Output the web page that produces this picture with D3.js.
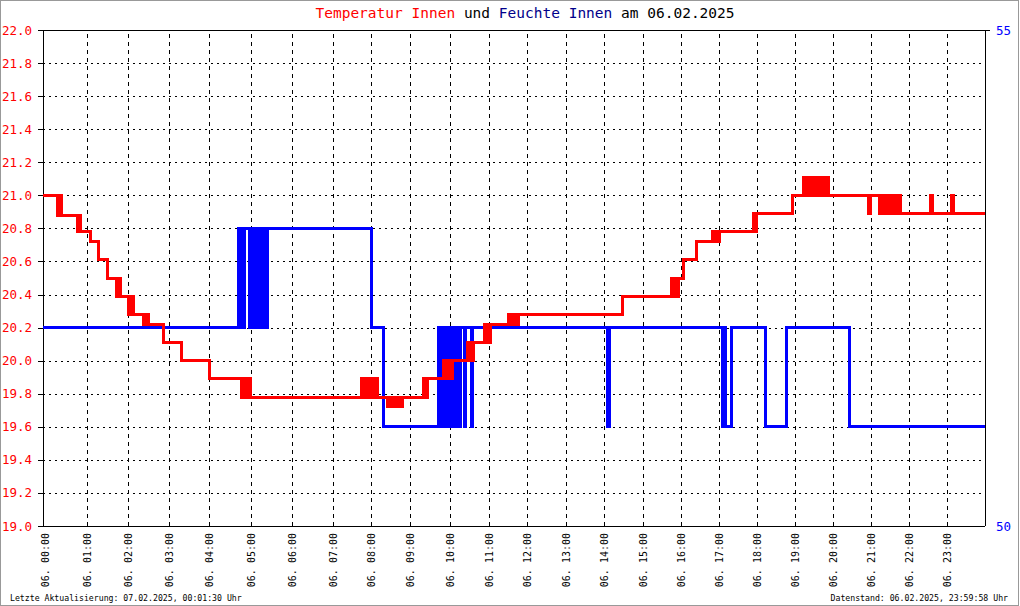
<!DOCTYPE html>
<html><head><meta charset="utf-8">
<script src="https://cdn.jsdelivr.net/npm/d3@7"></script>
<style>body{margin:0;background:#fff}svg{display:block}text{font-family:"DejaVu Sans Mono",monospace}</style>
</head><body>
<script>
// ---- data ----
const readingsPerHour = [89,82,82,80,83,82,82,78,78,80,77,77,77,77,77,77,77,75,77,75,76,77,75,77];
const hourLabels = ["00","01","02","03","04","05","06","07","08","09","10","11","12","13","14","15","16","17","18","19","20","21","22","23"];
const tempTicks = [19.0,19.2,19.4,19.6,19.8,20.0,20.2,20.4,20.6,20.8,21.0,21.2,21.4,21.6,21.8,22.0];
const humTicks = [50,55];
const tempPoints = [
["00:00",21.0],
["00:19",20.88],["00:20",21.0],["00:22",20.88],["00:23",21.0],["00:25",20.88],
["00:46",20.78],["00:47",20.88],["00:49",20.78],["00:50",20.88],["00:51",20.78],
["01:05",20.72],["01:16",20.61],["01:29",20.5],
["01:43",20.39],["01:44",20.5],["01:46",20.39],["01:47",20.5],["01:48",20.39],
["02:00",20.28],["02:02",20.39],["02:04",20.28],["02:05",20.39],["02:07",20.28],
["02:22",20.22],["02:24",20.28],["02:25",20.22],["02:27",20.28],["02:29",20.22],
["02:51",20.11],["03:19",20.0],["04:01",19.89],
["04:46",19.78],["04:48",19.89],["04:50",19.78],["04:53",19.89],["04:55",19.78],["04:57",19.89],["04:58",19.78],["04:59",19.89],["05:00",19.78],
["07:45",19.89],["07:47",19.78],["07:48",19.89],["07:50",19.78],["07:52",19.89],["07:54",19.78],["07:55",19.89],["07:57",19.78],["07:58",19.89],["08:00",19.78],["08:01",19.89],["08:03",19.78],["08:04",19.89],["08:06",19.78],["08:07",19.89],["08:08",19.78],["08:09",19.89],["08:10",19.78],
["08:25",19.72],["08:27",19.78],["08:28",19.72],["08:30",19.78],["08:31",19.72],["08:33",19.78],["08:34",19.72],["08:36",19.78],["08:37",19.72],["08:39",19.78],["08:40",19.72],["08:42",19.78],["08:43",19.72],["08:45",19.78],["08:46",19.72],["08:48",19.78],
["09:20",19.89],["09:21",19.78],["09:23",19.89],["09:24",19.78],["09:26",19.89],
["09:50",20.0],["09:52",19.89],["09:54",20.0],["09:56",19.89],["09:58",20.0],["10:00",19.89],["10:02",20.0],["10:03",19.89],["10:04",20.0],
["10:27",20.11],["10:29",20.0],["10:30",20.11],["10:32",20.0],["10:33",20.11],["10:35",20.0],["10:36",20.11],
["10:54",20.22],["10:56",20.11],["10:57",20.22],["10:59",20.11],["11:00",20.22],["11:02",20.11],["11:03",20.22],
["11:30",20.28],["11:32",20.22],["11:33",20.28],["11:35",20.22],["11:37",20.28],["11:39",20.22],["11:41",20.28],["11:43",20.22],["11:45",20.28],["11:46",20.22],["11:47",20.28],
["14:28",20.39],
["15:45",20.5],["15:47",20.39],["15:48",20.5],["15:50",20.39],["15:52",20.5],["15:54",20.39],["15:56",20.5],
["16:04",20.61],["16:24",20.72],
["16:49",20.78],["16:51",20.72],["16:53",20.78],["16:55",20.72],["16:57",20.78],["16:58",20.72],["17:00",20.78],
["17:54",20.89],["17:55",20.78],["17:57",20.89],["17:58",20.78],["18:00",20.89],
["18:56",21.0],
["19:13",21.11],["19:15",21.0],["19:16",21.11],["19:19",21.0],["19:20",21.11],["19:22",21.0],["19:23",21.11],["19:25",21.0],["19:26",21.11],["19:29",21.0],["19:30",21.11],["19:32",21.0],["19:33",21.11],["19:35",21.0],["19:36",21.11],["19:39",21.0],["19:40",21.11],["19:42",21.0],["19:43",21.11],["19:45",21.0],
["19:49",21.11],["19:51",21.0],["19:52",21.11],["19:54",21.0],
["20:56",20.89],["21:00",21.0],
["21:13",20.89],["21:15",21.0],["21:16",20.89],["21:19",21.0],["21:20",20.89],["21:22",21.0],["21:23",20.89],["21:26",21.0],["21:27",20.89],["21:29",21.0],["21:30",20.89],["21:33",21.0],["21:34",20.89],["21:36",21.0],["21:37",20.89],["21:40",21.0],["21:41",20.89],["21:43",21.0],["21:44",20.89],["21:46",21.0],["21:47",20.89],
["22:35",21.0],["22:38",20.89],["23:08",21.0],["23:11",20.89],
["24:00",20.89]
];
const humPoints = [
["00:00",52],
["04:43",53],["04:46",52],["04:51",53],["04:59",52],["05:03",53],["05:06",52],["05:07",53],["05:09",52],["05:10",53],["05:12",52],["05:13",53],["05:15",52],["05:16",53],["05:18",52],["05:19",53],["05:21",52],["05:22",53],["05:24",52],["05:25",53],
["08:00",52],["08:19",51],
["09:42",52],["09:44",51],["09:45",52],["09:47",51],["09:48",52],["09:50",51],["09:51",52],["09:53",51],["09:54",52],["09:56",51],["09:57",52],["09:59",51],["10:00",52],["10:02",51],["10:03",52],["10:05",51],["10:06",52],["10:08",51],["10:09",52],["10:15",51],["10:16",52],["10:22",51],["10:23",52],["10:33",51],["10:34",52],
["14:06",51],["14:09",52],
["17:05",51],["17:07",52],["17:09",51],["17:19",52],
["18:13",51],["18:46",52],["20:26",51],["24:00",51]
];
const titleParts = [["Temperatur Innen","#ff0000"],[" und ","#000000"],["Feuchte Innen","#00008b"],[" am 06.02.2025","#000000"]];
const footerLeft = "Letzte Aktualisierung: 07.02.2025, 00:01:30 Uhr";
const footerRight = "Datenstand: 06.02.2025, 23:59:58 Uhr";

// ---- layout ----
const W = 1020, H = 606;
const L = 43, R = 985, T = 30, B = 526;
const svg = d3.select("body").append("svg").attr("width", W).attr("height", H);
svg.append("rect").attr("x",0.5).attr("y",0.5).attr("width",1018).attr("height",605)
  .attr("fill","#fff").attr("stroke","#999");

const cum = [0];
readingsPerHour.forEach(c => cum.push(cum[cum.length-1] + c));
const idx = s => { const [h,m] = s.split(":").map(Number); return h >= 24 ? cum[24] : cum[h] + m/60*readingsPerHour[h]; };
const x = d3.scaleLinear().domain([0, cum[24]]).range([L, R]);
const yT = d3.scaleLinear().domain([19, 22]).range([B, T]);
const yH = d3.scaleLinear().domain([50, 55]).range([B, T]);

// grid horizontal
const gh = svg.append("g").attr("transform",`translate(${L},0)`)
  .call(d3.axisLeft(yT).tickValues(tempTicks.slice(1,-1)).tickSize(-(R-L)).tickFormat(""));
gh.select(".domain").remove();
gh.selectAll("line").attr("stroke","#000").attr("stroke-dasharray","2,4").attr("shape-rendering","crispEdges");
// grid vertical
const gv = svg.append("g").attr("transform",`translate(0,${B})`)
  .call(d3.axisBottom(x).tickValues(cum.slice(1,24)).tickSize(-(B-T)).tickFormat(""));
gv.select(".domain").remove();
gv.selectAll("line").attr("stroke","#000").attr("stroke-dasharray","4,4").attr("shape-rendering","crispEdges");

// frame
const fr = svg.append("g").attr("stroke","#000").attr("shape-rendering","crispEdges");
fr.append("line").attr("x1",L-5).attr("x2",R+5).attr("y1",T).attr("y2",T);
fr.append("line").attr("x1",L-5).attr("x2",R).attr("y1",B).attr("y2",B);
fr.append("line").attr("x1",L).attr("x2",L).attr("y1",T).attr("y2",B);
fr.append("line").attr("x1",R).attr("x2",R).attr("y1",T).attr("y2",B);

// left axis
const ga = svg.append("g").attr("transform",`translate(${L},0)`)
  .call(d3.axisLeft(yT).tickValues(tempTicks).tickSize(5).tickPadding(6).tickFormat(d => d.toFixed(1)));
ga.select(".domain").remove();
ga.selectAll("line").attr("stroke","#000").attr("shape-rendering","crispEdges");
ga.selectAll("text").attr("fill","#ff0000").style("font-family","DejaVu Sans Mono").style("font-size","12.5px");
// right axis
const gr = svg.append("g").attr("transform",`translate(${R},0)`)
  .call(d3.axisRight(yH).tickValues(humTicks).tickSize(0).tickPadding(11).tickFormat(d3.format("d")));
gr.select(".domain").remove();
gr.selectAll("text").attr("fill","#0000ff").style("font-family","DejaVu Sans Mono").style("font-size","12.5px");
// bottom labels
const gb = svg.append("g").attr("transform",`translate(0,${B})`)
  .call(d3.axisBottom(x).tickValues(cum.slice(0,24)).tickSize(0).tickFormat((d,i) => "06. " + hourLabels[i] + ":00"));
gb.select(".domain").remove();
gb.selectAll("text").attr("fill","#000").style("font-family","DejaVu Sans Mono").style("font-size","10px")
  .attr("text-anchor","end").attr("dy",null).attr("y",null)
  .attr("transform",(d,i) => `translate(${i === 0 ? 5.5 : 3.5},7) rotate(-90)`);

// lines
const lineT = d3.line().x(d => x(idx(d[0]))).y(d => yT(d[1])).curve(d3.curveStepAfter);
const lineH = d3.line().x(d => x(idx(d[0]))).y(d => yH(d[1])).curve(d3.curveStepAfter);
svg.append("path").attr("d", lineH(humPoints)).attr("fill","none").attr("stroke","#0000ff").attr("stroke-width",3).attr("stroke-linejoin","miter").attr("shape-rendering","crispEdges");
svg.append("path").attr("d", lineT(tempPoints)).attr("fill","none").attr("stroke","#ff0000").attr("stroke-width",3).attr("stroke-linejoin","miter").attr("shape-rendering","crispEdges");

// title
const tt = svg.append("text").attr("x",525).attr("y",18).attr("text-anchor","middle").style("font-size","14.5px").style("white-space","pre");
titleParts.forEach(p => tt.append("tspan").attr("fill",p[1]).text(p[0]));
// footer
svg.append("text").attr("x",10).attr("y",601).style("font-size","8.2px").attr("fill","#000").text(footerLeft);
svg.append("text").attr("x",1008).attr("y",601).attr("text-anchor","end").style("font-size","8.2px").attr("fill","#000").text(footerRight);
</script>
</body></html>
